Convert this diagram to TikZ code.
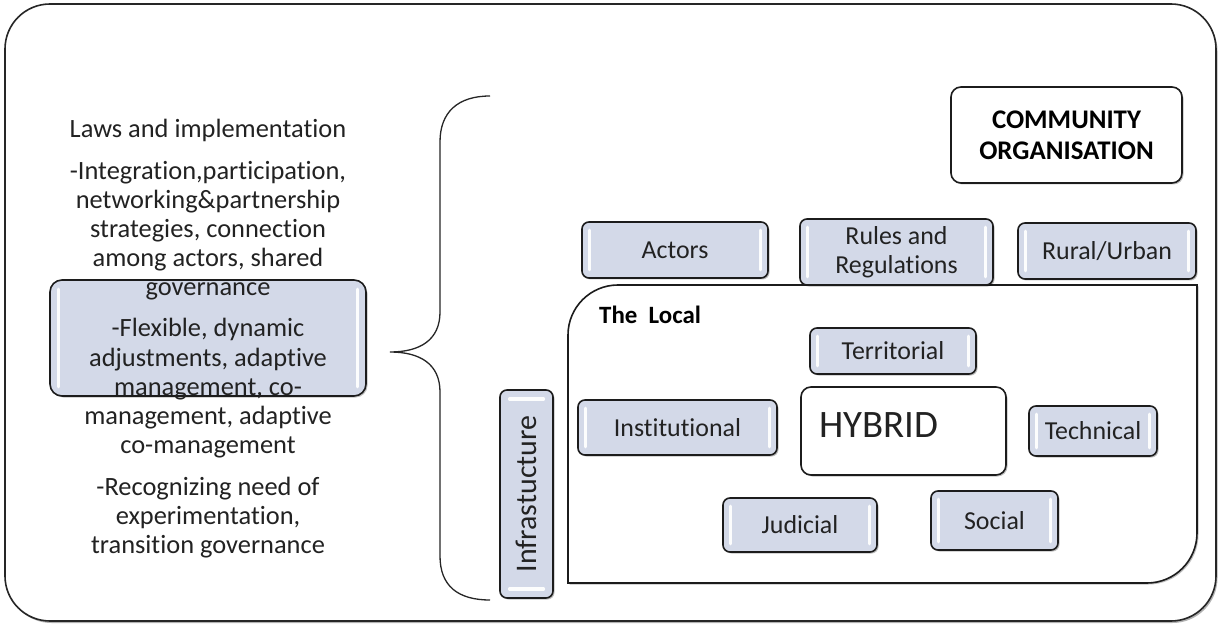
\documentclass[tikz,border=0pt]{standalone}
\usepackage{fontspec}
\setmainfont{Carlito}[Ligatures={NoCommon}]
\usetikzlibrary{shadows}
\definecolor{boxfill}{HTML}{D3D9E8}
\definecolor{edgecol}{HTML}{1C1C1C}
\definecolor{txt}{HTML}{222222}
\tikzset{
  shade1/.style={drop shadow={shadow xshift=1.5bp, shadow yshift=-1.5bp, fill=black, opacity=.25}},
  bevelbox/.style={draw=edgecol, line width=1.6bp, rounded corners=7bp, fill=boxfill,
    font=\fontsize{26}{29}\selectfont, text=txt, align=center, inner sep=0pt, shade1},
  whitebox/.style={draw=edgecol, line width=1.6bp, rounded corners=10bp, fill=white,
    align=center, inner sep=0pt, shade1},
  strip/.style={draw=white, line width=3.2bp, opacity=.95, line cap=round},
  lefttext/.style={font=\fontsize{26.5}{29}\selectfont, text=txt, anchor=base, inner sep=0pt},
}
\begin{document}
\begin{tikzpicture}[x=1bp, y=-1bp]
\useasboundingbox (0,0) rectangle (1220,626);
% outer frame
\draw[draw=black!85, line width=1.6bp, rounded corners=45bp, fill=white,
  drop shadow={shadow xshift=1.5bp, shadow yshift=-2bp, fill=black, opacity=.3}]
  (5,4) rectangle (1216,621);
% brace
\draw[line width=1.3bp, black!85]
  (490,96) .. controls (458,96) and (440,112) .. (440,142) -- (440,312)
  .. controls (440,340) and (420,352) .. (390,352)
  .. controls (420,352) and (440,364) .. (440,392) -- (440,556)
  .. controls (440,586) and (458,600) .. (490,600);
% left shaded box
\node[bevelbox, rounded corners=12bp, minimum width=316bp, minimum height=116bp] (leftbox) at (208,338) {};
\draw[strip] ([shift={(9,10)}]leftbox.north west) -- ([shift={(9,-10)}]leftbox.south west);
\draw[strip] ([shift={(-9,10)}]leftbox.north east) -- ([shift={(-9,-10)}]leftbox.south east);
% left text
\foreach \y/\t [count=\i] in {
  138/{Laws and implementation},
  180/{-Integration,participation,},
  209/{networking\&partnership},
  238/{strategies, connection},
  267/{among actors, shared},
  296/{governance},
  337/{-Flexible, dynamic},
  366/{adjustments, adaptive},
  395/{management, co-},
  424/{management, adaptive},
  453/{co-management},
  495/{-Recognizing need of},
  524/{experimentation,},
  553/{transition governance}}
  \node[lefttext] (line\i) at (208,\y) {\t};
% The Local box
\draw[draw=edgecol, line width=1.6bp, fill=white, shade1]
  (568,583) -- (568,335) arc[start angle=180, end angle=270, radius=50]
  -- (1197,285) -- (1197,533) arc[start angle=0, end angle=90, radius=50] -- cycle;
\node[font=\fontsize{25}{29}\selectfont\bfseries, anchor=base west, inner sep=0pt] (local) at (599,324) {The\ \ Local};
% top row
\node[bevelbox, minimum width=186bp, minimum height=56bp] (actors) at (675,250) {Actors};
\node[bevelbox, minimum width=193bp, minimum height=66bp] (rules) at (896.5,252) {Rules and\\Regulations};
\node[bevelbox, minimum width=178bp, minimum height=56bp] (rural) at (1107,251) {Rural/Urban};
% community
\node[whitebox, minimum width=231bp, minimum height=96bp, font=\fontsize{27}{31}\selectfont\bfseries] (community) at (1066.5,135) {COMMUNITY\\ORGANISATION};
% inner boxes
\node[bevelbox, minimum width=166bp, minimum height=46bp] (territorial) at (893,351) {Territorial};
\node[bevelbox, minimum width=199bp, minimum height=55bp] (institutional) at (677.5,427.5) {Institutional};
\node[bevelbox, minimum width=128bp, minimum height=50bp] (technical) at (1093,431) {Technical};
\node[bevelbox, minimum width=154bp, minimum height=54bp] (judicial) at (800,525) {Judicial};
\node[bevelbox, minimum width=127bp, minimum height=59bp] (social) at (994.5,520.5) {Social};
\node[whitebox, minimum width=205bp, minimum height=88bp] (hybrid) at (903.5,431) {};
\node[font=\fontsize{39}{41}\selectfont, text=txt, anchor=base west, inner sep=0pt] (hybridtext) at (819,437) {HYBRID};
% infrastructure (vertical)
\node[bevelbox, rotate=90, minimum width=208bp, minimum height=53bp, font=\fontsize{30}{32}\selectfont] (infra) at (526.5,494) {Infrastucture};
\draw[strip] ([shift={(-17,-95)}]infra.center) -- ([shift={(17,-95)}]infra.center);
\draw[strip] ([shift={(-17,95)}]infra.center) -- ([shift={(17,95)}]infra.center);
% bevel strips
\foreach \n in {actors,rules,rural,territorial,institutional,technical,judicial,social}{
  \draw[strip] ([shift={(8,9)}]\n.north west) -- ([shift={(8,-9)}]\n.south west);
  \draw[strip] ([shift={(-8,9)}]\n.north east) -- ([shift={(-8,-9)}]\n.south east);
}
\end{tikzpicture}
\end{document}
